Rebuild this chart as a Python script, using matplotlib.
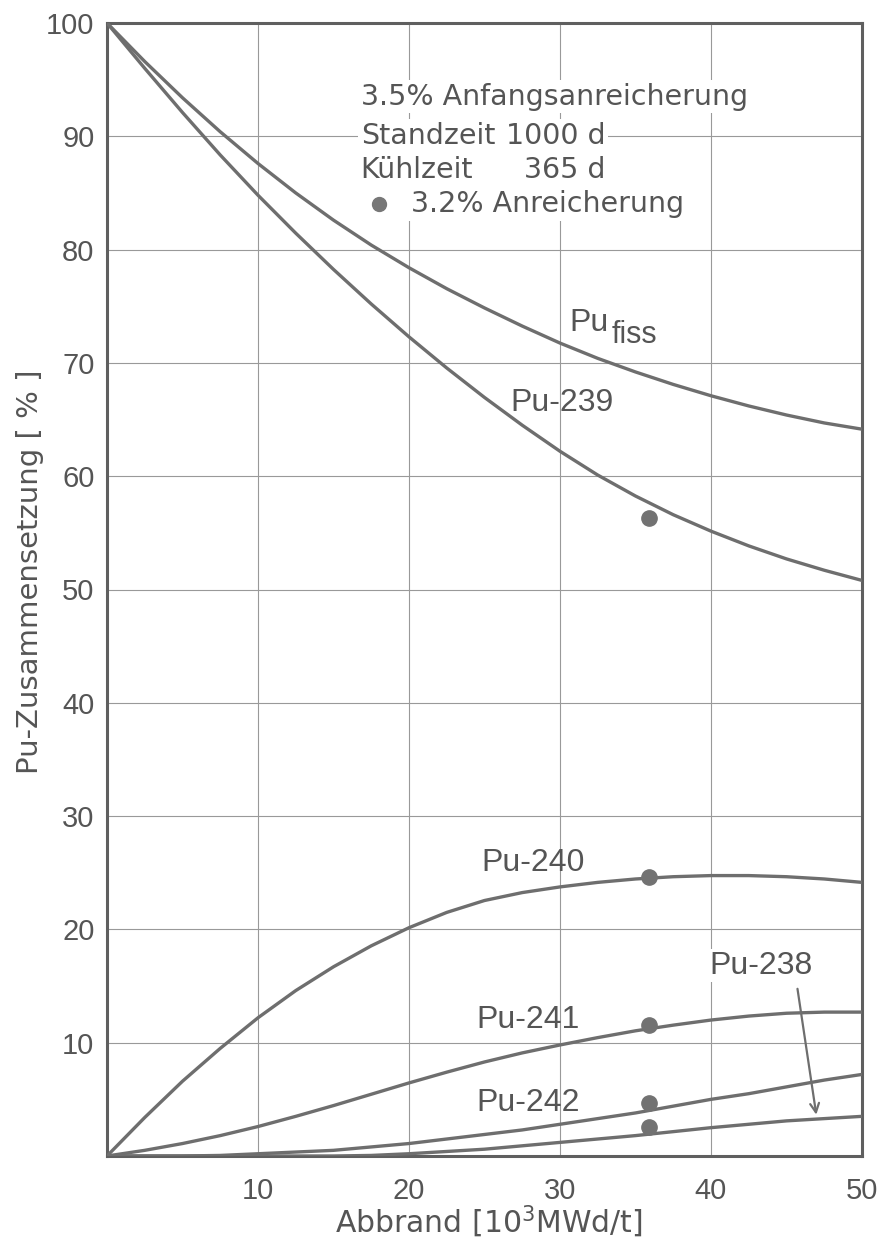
import matplotlib
matplotlib.use("Agg")
import matplotlib.pyplot as plt
from matplotlib.patches import Rectangle

# Abbrand [10^3 MWd/t]
burnup = [0, 2.5, 5, 7.5, 10, 12.5, 15, 17.5, 20, 22.5, 25, 27.5, 30,
          32.5, 35, 37.5, 40, 42.5, 45, 47.5, 50]
pu_fiss = [100, 96.6, 93.4, 90.4, 87.6, 85.0, 82.6, 80.4, 78.4, 76.55, 74.85,
           73.25, 71.75, 70.4, 69.2, 68.1, 67.1, 66.2, 65.4, 64.7, 64.15]
pu_239 = [100, 96.0, 92.1, 88.35, 84.8, 81.45, 78.25, 75.2, 72.3, 69.55,
          66.95, 64.5, 62.2, 60.1, 58.25, 56.6, 55.15, 53.85, 52.7, 51.7, 50.8]
pu_240 = [0, 3.4, 6.6, 9.5, 12.2, 14.6, 16.7, 18.55, 20.15, 21.5, 22.55,
          23.25, 23.75, 24.15, 24.45, 24.65, 24.75, 24.75, 24.65, 24.45, 24.15]
pu_241 = [0, 0.5, 1.1, 1.8, 2.6, 3.5, 4.45, 5.45, 6.45, 7.4, 8.3, 9.1, 9.8,
          10.45, 11.05, 11.55, 12.0, 12.35, 12.6, 12.7, 12.7]
pu_242 = [0, 0, 0, 0.05, 0.2, 0.35, 0.5, 0.8, 1.1, 1.5, 1.9, 2.3, 2.8,
          3.3, 3.8, 4.4, 5.0, 5.5, 6.1, 6.7, 7.2]
pu_238 = [0, 0, 0, 0, 0, 0, 0, 0.05, 0.2, 0.4, 0.6, 0.9, 1.2, 1.5, 1.8,
          2.15, 2.5, 2.8, 3.1, 3.3, 3.5]

# Messpunkte bei 3.2 % Anreicherung
pt_x = [35.9, 35.9, 35.9, 35.9, 35.9]
pt_y = [56.3, 24.6, 11.6, 4.7, 2.6]

xticks = [10, 20, 30, 40, 50]
yticks = [10, 20, 30, 40, 50, 60, 70, 80, 90, 100]

ink = "#6e6e6e"
txt = "#555555"
narrow = ["Liberation Sans", "DejaVu Sans"]

fig = plt.figure(figsize=(8.79, 12.53), dpi=100)
ax = fig.add_axes([107 / 879, 1 - 1156 / 1253, 755 / 879, 1133 / 1253])

ax.set_xlim(0, 50)
ax.set_ylim(0, 100)
ax.set_xticks(xticks)
ax.set_yticks(yticks)
ax.tick_params(length=0, colors=txt, labelsize=21)
ax.tick_params(axis="x", pad=15)
ax.tick_params(axis="y", pad=9)
for lab in ax.get_xticklabels() + ax.get_yticklabels():
    lab.set_family(narrow)
ax.grid(True, color="#999999", lw=0.8)
ax.set_axisbelow(True)
for s in ax.spines.values():
    s.set_color("#5f5f5f")
    s.set_linewidth(2.2)

for yy in [pu_fiss, pu_239, pu_240, pu_241, pu_242, pu_238]:
    ax.plot(burnup, yy, color=ink, lw=2.4, solid_capstyle="round", zorder=3)
ax.plot(pt_x, pt_y, "o", color="#727272", ms=11, zorder=4)

lbl = dict(color=txt, fontsize=23, family=narrow, va="center", zorder=5)
ax.text(30.6, 73.5, "Pu", ha="left", **lbl)
ax.text(33.4, 72.5, "fiss", ha="left", color=txt, fontsize=22, family=narrow,
        va="center", zorder=5)
ax.text(30.1, 66.5, "Pu-239", ha="center", **lbl)
ax.text(28.2, 25.9, "Pu-240", ha="center", **lbl)
ax.text(27.9, 12.0, "Pu-241", ha="center", **lbl)
ax.text(27.9, 4.7, "Pu-242", ha="center", **lbl)
ax.text(43.3, 16.8, "Pu-238", ha="center",
        bbox=dict(fc="white", ec="none", pad=1), **lbl)
ax.annotate("", xy=(47.0, 3.4), xytext=(45.7, 15.0),
            arrowprops=dict(arrowstyle="->", color=ink, lw=1.6,
                            mutation_scale=16), zorder=5)

# Textblock oben
ax.add_patch(Rectangle((16.6, 85.5), 16.6, 6.0, fc="white", ec="none",
                       zorder=4))
box = dict(fc="white", ec="none", pad=2)
info = dict(color=txt, fontsize=20.5, va="center", zorder=5, bbox=box)
ax.text(16.8, 93.5, "3.5% Anfangsanreicherung", ha="left", **info)
ax.text(16.8, 90.0, "Standzeit", ha="left", **info)
ax.text(33.0, 90.0, "1000 d", ha="right", **info)
ax.text(16.8, 87.0, "Kühlzeit", ha="left", **info)
ax.text(33.0, 87.0, "365 d", ha="right", **info)
ax.text(20.1, 84.0, "3.2% Anreicherung", ha="left", **info)
ax.plot([18.0], [84.0], "o", color="#777777", ms=10, zorder=6)

fig.text(489 / 879, 1 - 1222 / 1253, r"Abbrand [10$^{3}$MWd/t]", ha="center",
         va="center", fontsize=21.5, color=txt)
fig.text(30 / 879, 1 - 572 / 1253, "Pu-Zusammensetzung [ % ]", rotation=90,
         ha="center", va="center", fontsize=21, color=txt)

fig.savefig("out.png", dpi=100, facecolor="white")
